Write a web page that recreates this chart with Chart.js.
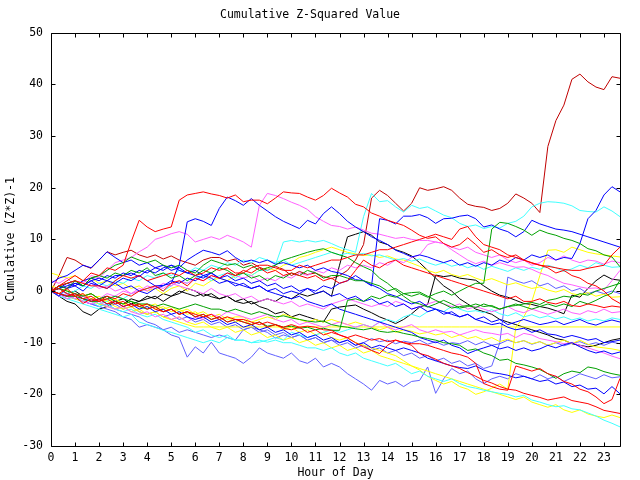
<!DOCTYPE html>
<html>
<head>
<meta charset="utf-8">
<title>Cumulative Z-Squared Value</title>
<script src="https://cdn.jsdelivr.net/npm/chart.js@4.4.0/dist/chart.umd.min.js"></script>
<style>
  html, body { margin: 0; padding: 0; background: #fff; }
  canvas { display: block; }
</style>
</head>
<body>
<canvas id="chart" width="640" height="480"></canvas>
<script>
// sample times, hours (one point every 20 minutes)
const hours = [
  0, 0.333, 0.667, 1, 1.333, 1.667, 2, 2.333, 2.667, 3, 3.333, 3.667,
  4, 4.333, 4.667, 5, 5.333, 5.667, 6, 6.333, 6.667, 7, 7.333, 7.667,
  8, 8.333, 8.667, 9, 9.333, 9.667, 10, 10.333, 10.667, 11, 11.333, 11.667,
  12, 12.333, 12.667, 13, 13.333, 13.667, 14, 14.333, 14.667, 15, 15.333, 15.667,
  16, 16.333, 16.667, 17, 17.333, 17.667, 18, 18.333, 18.667, 19, 19.333, 19.667,
  20, 20.333, 20.667, 21, 21.333, 21.667, 22, 22.333, 22.667, 23, 23.333, 23.667
];
const hourTicks = [0, 1, 2, 3, 4, 5, 6, 7, 8, 9, 10, 11, 12, 13, 14, 15, 16, 17, 18, 19, 20, 21, 22, 23];
const valueTicks = [-30, -20, -10, 0, 10, 20, 30, 40, 50];

// one cumulative series per source
const darkRed1 = [0,3,6.5, 6,5,4.4, 6,7.6,7, 7.5,7.9,7, 6.5,7,6.2, 6.8,6,5.5, 5,6,6.5, 6.5,5.8,6.2,
  5,5.5,4.6, 4,4.8,4.2, 3,3.8,3.2, 3.5,2.8,2.4, 3,4,6, 9,18,19.5, 18.5,17,15.5, 17,20,19.5,
  19.8,20.2,19.5, 18,16.8,16.4, 16.2,15.6,16, 17,18.8,18, 17,15.2,28, 33,36,41, 42,40.5,39.5, 39,41.5,41.2];
const red1 = [0,1,2, 3,2,3.5, 3,4.5,4, 5,9.5,13.7, 12.4,11.5,12, 12.4,17.6,18.6, 18.9,19.2,18.8, 18.5,18,18.6,
  17.3,17.6,17.6, 16.9,18,19.2, 19,18.9,18.2, 17.6,18.5,19.9, 19,18.2,16.8, 16.3,15.1,14.5, 13.7,13.2,12.7, 11.8,10.8,10.2,
  10.5,9.2,8.5, 9,10.3,9, 7.5,8,7, 6.5,7,6, 5.5,5,4.5, 3.5,4,3, 2.5,1.5,1, 0,-1.5,-2.4];
const red2 = [0,-0.5,-1, -0.5,-1.5,-1, -2,-1.5,-2.5, -2,-3,-2.5, -3.5,-3,-4, -3.5,-4.5,-4, -4.5,-5,-4.5, -5.5,-5,-5.5,
  -5.5,-6,-6.5, -6,-6.5,-7, -6.5,-7,-6.8, -7,-7.5,-7.6, -8.5,-9.1,-10, -10.8,-11.5,-12.1, -10.5,-9.5,-10, -10.5,-12.1,-12.5,
  -13.2,-14,-14.5, -15,-15.8,-16.5, -17.3,-17.8,-18.5, -19,-19.2,-19.8, -20.2,-20.6,-21.1, -20.8,-20.5,-21.2, -21.5,-21.8,-22.4, -23.1,-23.4,-23.7];
const red3 = [0,0.5,-0.5, -1,-0.5,-2, -1.5,-2.5,-2, -3,-2.5,-3, -2.5,-3.5,-4, -3.5,-4.5,-4, -5,-4.5,-5.5, -5,-6,-5.5,
  -6,-6.5,-6, -7,-6.5,-7.2, -7.5,-7,-8, -7.5,-8.5,-8, -8.5,-9,-8.5, -9,-9.5,-9.2, -9.8,-9.5,-10, -10.2,-10.2,-10.5,
  -11,-11.5,-12, -12.3,-12.8,-14, -17.9,-18.5,-19, -19.2,-14.5,-15, -15.5,-15,-16, -16.5,-17.5,-18, -19,-19.5,-20.5, -21.8,-21,-16.9];
const red4 = [0,1,1.5, 2,1.5,1, 1,0.5,2, 3,2.5,3, 2,2.5,3, 3.5,3,4, 3,3.5,4.5, 4,4.5,3.5,
  3.5,4.5,5, 5,4.5,4, 4,5,4.5, 5,5.5,6, 6,6.5,7, 7,7.5,8, 8,8.5,9, 9.5,10,10.5,
  11,10.5,10, 12,12.5,10.5, 9,8.5,8, 7,6.5,6, 5.4,5,4.8, 4.5,4.2,4, 4,4.4,4.7, 5,7,8.5];
const red5 = [0,-0.5,0.5, -1,-2.4,-1.5, -2,-1,-1.5, -0.5,-1,0, 0.5,1,0, 1.5,2,1, 2.5,2,3, 2.5,3.5,3,
  4,3.5,4.5, 3.5,4,3, 3.5,3,2.5, 3,2,2.5, 1.5,2,4, 6,5,4.5, 5.5,6,5, 4.5,4,3.5,
  3,2.5,2, 1.5,1,0.5, 0,-0.5,-1, -1.5,-1,-2, -2,-1.5,-2.2, -2.5,-2,-2.8, -3,-2.5,-2.8, -3.2,-2.9,-3.1];
const magenta1 = [0,1,0.5, 2,1.5,3, 2.5,4,5.5, 6,6.5,7.6, 8.5,10,10.5, 11.1,11.5,11, 9.5,10,10.5, 10,10.8,10.2,
  9.5,8.5,16.6, 18.9,18.5,17.9, 17.2,16.6,15.8, 14.4,13.5,12.7, 12.5,12,12.4, 11.8,11.2,11, 10.6,10.2,10.4, 10,9.8,9.8,
  9.5,9.2,8.5, 8,8.5,7.5, 7,6.5,7, 6,5.5,6, 5,5.5,6.5, 6,6.8,6, 5.5,6,5.8, 5.2,5.8,5.5];
const magenta2 = [2,1.5,2.5, 1,2,1.5, 0.5,1,0, 0.5,-0.5,0, 1,0.5,1.5, 1,2,1.5, 2.5,2,3, 2.5,3.5,3,
  2.5,3,2, 2.5,2,3, 2.5,3.5,3, 4,3.5,4.5, 4,5,4.5, 5,4.5,5.5, 5,6,5.5, 6.5,7,9,
  9.5,9.2,8, 7,6,5.3, 5.8,5,5.5, 5,4.6,4.7, 4.2,3.5,3, 2.2,1.5,1.2, 0.8,0.5,0.6, 0.2,2,4];
const magenta3 = [0,-1,-0.5, -1.5,-1,-2, -1.5,-0.5,-1, 0,-0.5,0.5, 0,1,0.5, 1.5,1,0.5, 0,-0.5,0.5, -0.5,-1,-0.5,
  -1.5,-1,-2, -1.5,-2,-2.5, -2,-3,-2.5, -3,-3.5,-2.5, -2,-1.5,-2, -2.5,-3,-2.5, -3,-2,-2.5, -3.5,-3,-2.5,
  -2,-2.5,-3, -2.5,-3.5,-3, -3.5,-4,-3.5, -3,-3.8,-4.2, -3.5,-4,-4.5, -4,-3.5,-4.2, -4.5,-3.8,-4.2, -3.5,-4.2,-4];
const magenta4 = [0,-0.5,-1.5, -1,-2,-2.5, -2,-3,-3.5, -3,-4,-4.5, -4,-5,-4.5, -5.5,-5,-6, -5,-5.5,-4.5, -5,-4,-4.5,
  -5,-5.5,-5, -4.5,-5.5,-6, -5.5,-6.5,-6, -6.5,-7,-6.5, -6,-6.5,-7, -6.5,-7,-6, -7,-7.5,-7, -6.5,-7.5,-8,
  -7.5,-8,-7.8, -8.5,-8,-7.5, -8,-8.2,-8.5, -8.2,-9,-8.2, -8.5,-9.2,-9.5, -9.8,-10.2,-10, -10.5,-11,-11.5, -12,-12.6,-13.1];
const blue1 = [0,-1,0.5, 1,0,1.5, 1,2,1.5, 2.5,2,3, 2,1,1.1, 1.5,5,13.4, 14,13.5,12.7, 16,18.2,17.5,
  16.6,17.9,16.6, 15.5,14.4,13.5, 12.8,12.1,13.7, 13,15,16.3, 15,13.5,12.4, 11.5,10.5,9.8, 9,7.9,7.3, 6.6,7,6.6,
  6,5.5,6, 5,5.5,4.8, 5.5,5,6, 5.5,6.5,6, 7,6.5,7, 6,6.5,6.3, 9.2,14,15.6, 18.6,20.2,19.2];
const blue2 = [0,0.5,1, 1.5,1,2, 2.5,2,3, 3,3.5,2.8, 4,3.5,4.5, 5,4.5,6, 7,7.9,7.5, 7,7.8,6.5,
  5.6,6,5.5, 6,5.2,5.5, 5,4.5,5, 4,4.5,3.8, 3.5,3,2.2, 2,1.2,0.5, -0.5,-1,-1.8, -2.5,-2,-3,
  -3.5,-4,-4.5, -5,-4.5,-5.5, -6,-6.5,-6.2, -7,-7.5,-7.2, -8,-7.5,-8.3, -8.5,-9,-8.6, -9,-9.5,-9.2, -10,-9.8,-9.5];
const blue3 = [0,1,0.5, 1.5,1,2, 1,0.5,1.5, 0.5,1,0, -0.5,0.5,1, 2,1.5,2.5, 2,3,2.5, 1.5,2,1,
  1.5,0.5,1, 0,0.5,-0.5, 0,-0.5,0.5, 0,1,0.5, 1.5,2,3, 2,1,14, 13.7,13,14.5, 14.5,14.8,14.2,
  13.1,14,14.1, 14.5,14.7,14, 12.4,12.8,12, 11.5,10.5,11.5, 13.7,13,12.5, 12,11.8,11.5, 11,10.5,10, 9.5,9,8.5];
const blue4 = [0,0.5,1.5, 1,2,2.5, 2,3,2.5, 3.5,3,4, 3.5,4.5,4, 5,4,3.5, 3,2.5,3.5, 2.5,2,1.5,
  1,0.5,1, 0,-0.5,-1, -1.5,-1,-2, -2.5,-3,-2.5, -3.5,-4,-4.5, -5,-5.5,-6, -6.5,-7,-7.5, -8,-9,-9.5,
  -10,-9.5,-10.5, -11,-12.1,-11.5, -11,-10.5,-11.2, -10.8,-11.5,-11, -11.6,-11.2,-10.5, -11,-10.4,-10, -10.8,-11.5,-12, -11.6,-12.2,-11.8];
const blue5 = [0,-0.5,-1, -0.5,-1.5,-2, -1.5,-2.5,-2, -3,-2.5,-3.5, -3,-4,-3.5, -4.5,-4,-5, -5.5,-5,-6, -5.5,-6.5,-6,
  -7,-6.5,-7.5, -7,-8,-7.5, -8.5,-8,-9, -8.5,-9.5,-9, -10,-9.5,-10.5, -10,-11,-10.5, -11,-11.5,-11, -11.5,-12,-13,
  -13.5,-14,-14.5, -14.8,-15,-14.5, -15.3,-15.8,-16, -16.3,-16.8,-16.5, -17,-17.5,-17.2, -18,-17.6,-18.5, -18.2,-19,-18.8, -19.9,-18.5,-19.9];
const blue6 = [1.5,2.5,3, 4,5,4.5, 6,7.6,6.5, 5.5,6,5, 5.5,4.5,5, 4,4.5,3.5, 4,3,3.5, 2.5,3,2,
  2.5,1.5,2, 1,1.5,0.5, 1,0,0.5, -0.5,0,-1, -0.5,-1.5,-1, -2,-1.5,-2.5, -2,-3,-2.5, -3.5,-3,-4,
  -3.5,-4.5,-4, -5,-4.5,-5.5, -5,-6,-5.5, -6.5,-6,-5.5, -6,-6.5,-6.2, -5.8,-6.5,-6, -5.5,-6.2,-6.6, -6,-5.6,-6];
const slate1 = [0,-0.5,-1, -1.5,-2,-2.5, -3,-2.5,-3.5, -4,-4.5,-5, -6,-6.5,-7.5, -8.5,-9,-12.8, -10.8,-12,-9.9, -12,-12.5,-13,
  -14,-12.8,-11, -12,-12.5,-13, -12,-13.5,-14, -13,-14.7,-14, -14.7,-16,-17, -18,-19.2,-17.3, -18,-17.5,-18.5, -17.5,-17.3,-14.7,
  -19.8,-17,-15, -16,-15.5,-17, -17.9,-17,-16.5, -17,-16,-16.5, -17,-16.2,-17, -16.5,-17.5,-16.8, -16,-16.5,-17, -16.2,-16.8,-16.6];
const slate2 = [0,-0.5,-1.5, -1,-2,-2.5, -3,-3.5,-4, -5,-5.5,-7, -6.5,-7,-7.5, -7,-8,-7.5, -8,-8.5,-9, -8.5,-9,-9.5,
  -7.5,-7,-7.5, -8,-9.1,-8.5, -9,-8.5,-9.5, -9,-10,-9.5, -10,-9.5,-10.5, -10,-9.2,-9.8, -9.5,-10.2,-9.7, -10,-9.5,-10.3,
  -9.8,-10.5,-10, -10.2,-9.6,-10.4, -9.8,-10.5,-10.2, -9.5,-10,-9.6, -10.3,-9.8,-10.5, -10,-10.6,-10.1, -9.8,-10.4,-10, -10.5,-9.9,-10.2];
const slate3 = [0,-1,-0.5, -1.5,-2,-1.5, -2.5,-3,-2.5, -3.5,-3,-4, -4.5,-4,-5, -4.5,-5.5,-5, -6,-5.5,-6.5, -6,-7,-6.5,
  -7.5,-7,-8, -7.5,-8.5,-8, -9,-8.5,-9.5, -9,-10,-9.5, -10.5,-10,-11, -10.5,-11.5,-11, -12,-11.5,-12.5, -12,-13,-12.5,
  -13.5,-13,-14, -13.5,-14.5,-14, -15,-14.5,-10, 2.7,2,1.5, 2,1,1.5, 0.5,1,0, 0.5,-0.5,0, -0.5,0,-0.5];
const cyan1 = [0,-1,-1.5, -1,-2,-1.5, -2.5,-2,-1, -1.5,-0.5,0, 0.5,1,0, 1,2,1.5, 2.5,3,2, 3,3.5,2.5,
  3.5,3,4, 4,5,9.5, 9.8,9.5,9.8, 9.5,9.8,9.2, 8.5,8,7.5, 14.4,18.9,17.3, 17.5,16.3,15.3, 16.6,16,16.3,
  15.5,14.7,14.2, 13.1,12.5,12.8, 12.1,12.5,12.2, 13.1,13.5,14.5, 16.3,17,17.3, 17.2,17,16.5, 15.6,15.4,15.3, 16.3,15.5,14.4];
const cyan2 = [0,0.5,-0.5, 0,1,0.5, 1.5,1,2, 1.5,2.5,2, 3,2.5,3.5, 3,4,3.5, 4.5,4,5, 4.5,5.5,5,
  6,5.5,6.5, 6,5.5,6, 5,5.5,6, 6.5,7,7.5, 7,7.3,7, 7.3,6.8,7, 6.5,6,6.3, 5.8,6.2,5.5,
  5,5.5,4.8, 5.2,4.5,5, 4.2,4.8,4.3, 3.8,4.5,4, 4.6,4.2,5, 4.5,3.8,4.3, 5,4.5,5.5, 5,4.6,4.7];
const cyan3 = [0,-0.5,-1, -1.5,-1,-2, -3,-2.5,-3.5, -4,-3.5,-4.5, -5,-4.5,-5.5, -6,-6.5,-7, -8,-7.5,-8.5, -9,-8.5,-9.5,
  -9.5,-10,-9.5, -9.9,-9.5,-10, -10,-10.5,-11, -11,-11.5,-11, -12,-12.5,-12, -13,-13.5,-14, -14.5,-14,-15, -16,-15.5,-16.5,
  -17,-17.5,-17, -17.9,-18.5,-18.8, -19.2,-19.5,-19.8, -20,-20.5,-20.2, -21.1,-21.5,-22, -22.4,-22.2,-22.8, -23,-23.6,-24.2, -25,-25.6,-26.3];
const cyan4 = [0,-0.5,-1.5, -2,-2.5,-3, -3.5,-4,-4.5, -5,-4.5,-6, -6.5,-7,-7.6, -8,-8.5,-9, -9.5,-10,-9.5, -10,-9,-9.5,
  -9.5,-10,-9.9, -9.5,-9,-9.5, -8,-8.5,-9, -8.5,-8,-7.5, -8,-7.5,-7, -6.5,-7,-6, -5.5,-6,-5, -4.5,-5,-4,
  -3.5,-4,-3, -3.5,-4,-3.8, -4.2,-3.6,-4.4, -4.8,-4.2,-5, -4.6,-5.2,-4.8, -5.4,-5,-5.6, -5.2,-5.8,-5.4, -5.8,-5.2,-5.5];
const green1 = [0,1,1.5, 2,1,2.5, 3,2.5,3.5, 3,4,3.5, 4.5,3,3.5, 2.5,3,2, 3,4,3.5, 4.5,4,3,
  3.5,2.5,3, 2,3,2.5, 3.5,3,4, 3.5,2.5,3, 3,2.5,2, 2,1.5,1, 0,0.5,-0.5, -1,-0.5,-1.2,
  -0.5,0,-0.8, 0,0.8,1.5, 1.5,12,13.3, 13.1,12.5,11.8, 10.8,11.8,11.2, 10.8,10.2,9.8, 9.2,8.2,7.8, 7,6.6,4.7];
const green2 = [0,1,0.5, 2,1,2.5, 3,4,5, 5.5,6.6,6, 5.5,6,5, 4.5,5,4, 3.5,5,6, 5.5,5,5.3,
  4.5,5,4, 4.5,5,6, 6.5,7,7.5, 7.9,8.2,7.5, 7,6.5,5.5, 4.7,4,2.5, 1.5,0.2,-1, -2.1,-2.5,-3.1,
  -2.5,-1.8,-2.5, -3.3,-3,-2.5, -3,-2.8,-3.5, -3,-2.5,-3, -3.5,-3,-2.5, -3,-2.5,-3, -2,-2.5,-1.8, -1,-0.4,2.1];
const green3 = [0,-0.5,-1, -1,-1.5,-2, -2,-1.5,-1, -1.5,-2,-2.5, -2.5,-3,-2.5, -3,-3.5,-3, -2.5,-3,-3.5, -3.5,-4,-3.5,
  -4,-4.5,-4, -4.5,-5,-4.8, -5.2,-5.5,-5.8, -6,-5.8,-6.5, -6.8,-7,-7.3, -7.5,-7.2,-7.8, -8,-7.8,-8.2, -8.5,-8.9,-9.2,
  -9.5,-10,-10.2, -10.5,-11.5,-11.2, -12,-12.5,-13.4, -13.2,-14,-14.3, -14.7,-15.2,-16, -16.9,-16,-15.5, -15.8,-14.7,-15, -15.6,-16,-16.3];
const green4 = [0,0.5,0, -0.5,-1,-0.5, -1.5,-1,-2, -2.5,-2,-3, -3.5,-3,-4, -3.5,-4.5,-4, -5,-4.5,-5.5, -5,-6,-5.5,
  -6,-6.5,-6, -6.8,-6.5,-7, -6.8,-7.2,-7, -7.5,-7.2,-7.6, -7.6,-1.8,-1.5, -2,-1,-1.5, -0.8,-1.2,-0.5, -0.3,-0.2,-1,
  -1.8,-2.5,-3.3, -3,-2.8,-3.2, -2.5,-3,-3.5, -3,-2.8,-2.5, -2.2,-2.6,-1.8, -1.5,-1,-1.2, -0.5,-0.8,0, 0.5,1,1.5];
const yellow1 = [0,-0.5,-1, -1.5,-1,-2, -2.5,-2,-3, -3.5,-3,-4, -4.5,-4,-5, -5.5,-6,-6.5,
  -6.95,-6.95,-6.95, -6.95,-6.95,-6.95, -6.95,-6.95,-6.95, -6.95,-6.95,-6.95, -6.95,-6.95,-6.95, -6.95,-6.95,-6.95,
  -6.95,-6.95,-6.95, -6.95,-6.95,-6.95, -6.95,-6.95,-6.95, -6.95,-6.95,-6.95, -6.95,-6.95,-6.95, -6.95,-6.95,-6.95,
  -6.95,-6.95,-6.95, -6.95,-6.95,-6.95, -6.95,-6.95,-6.95, -6.95,-6.95,-6.95, -6.95,-6.95,-6.95, -6.95,-6.95,-6.95];
const yellow2 = [0,-0.5,0.5, -1,-0.5,-1.5, -1,-2,-1.5, -2.5,-2,-3, -2.5,-3.5,-3, -4,-3.5,-4.5, -4,-5,-4.5, -5.5,-5,-6,
  -5.5,-6.5,-6, -7,-6.5,-7.5, -7,-8,-7.5, -8.5,-8,-9, -9.5,-9,-10, -10.5,-11,-11.5, -12,-12.5,-13.5, -14.5,-15.3,-16.5,
  -17.3,-18,-17.5, -18.5,-19,-20, -19.5,-18.8,-18, -19,-7,-5, -2,3,7.9, 8,7.5,8.5, 8,7.5,7.2, 7,6.8,6.6];
const yellow3 = [1,0.5,0, -0.5,-1,-0.5, -1.5,-2,-1.5, -2.5,-3,-2.5, -3,-2.5,-3.5, -3,-4,-3.5, -4.5,-4,-5, -4.5,-5.5,-5,
  -5,-6,-5.5, -5,-5.5,-4.5, -5,-5.5,-6, -5.5,-6,-5.5, -6,-6.5,-6, -6.5,-7,-7.5, -7,-8,-7.5, -7.8,-8.3,-8,
  -8.5,-8.2,-9, -8.5,-9.2,-8.8, -9.5,-9,-9.8, -9.3,-10,-9.6, -10.2,-9.8,-10.5, -10,-9.5,-10.2, -9.5,-10.3,-10.8, -11,-11.2,-11.5];
const yellow4 = [0,-0.5,-1, -1.5,-2,-1.5, -2.5,-3,-3.5, -3,-4,-3.5, -4.5,-4,-5, -5.5,-5,-6, -6.5,-6,-7, -7.5,-7,-8,
  -7.5,-8.5,-8, -9,-8.5,-9.5, -9,-10,-9.5, -10.5,-10,-11, -10.5,-11.5,-11, -12,-11.5,-12.5, -13,-13.5,-14, -14.5,-15,-15.5,
  -16,-16.5,-17, -17.5,-18,-18.5, -19,-19.5,-20, -20.5,-21,-20.5, -21.5,-22,-22.5, -22,-23,-23.5, -23,-23.8,-24.2, -24.5,-24,-24.5];
const yellow5 = [3.5,3,2.5, 3,2,2.5, 1.5,2,1, 1.5,0.5,1, 0,0.5,-0.5, 0.5,1,0, 1.5,1,2, 2.5,2,3,
  3.5,3,4, 4.5,4,5, 5.5,6.5,6.9, 7.5,8,8.5, 8,7.5,7.2, 6.9,7,6.5, 6.8,6.2,6, 5.4,4.8,4,
  3.5,4,3.2, 2.8,3.2,2.5, 2,2.4,1.8, 1.2,1.6,1, 0.5,0.8,0.2, -0.2,0.3,-0.5, -0.8,-0.3,-1, -0.6,-1.2,-1.1];
const black1 = [0,-1,-2, -2.5,-4,-4.7, -3.5,-3,-2, -2.5,-1.5,-2, -1,-1.5,-0.5, -1,0,-0.5, -1,-0.5,-1.1, -1.5,-1,-2,
  -2.4,-2,-3, -3.5,-4.4,-4, -5,-4.5,-5, -5.5,-6,-3.5, -3.1,-2.9,-2.7, -3.5,-4.2,-5, -5.6,-6.3,-5.5, -4.4,-3.1,-2.6,
  3.1,2.8,3, 2.5,2.3,2.1, 1,0,-0.8, -1.2,-1.8,-2.4, -2.6,-3,-3.3, -3.8,-4.4,-0.8, -1.2,0.5,2, 3.1,2.3,2.1];
const black2 = [0,0.5,-0.5, 0,-1,-0.5, -1.5,-1,-2, -1.5,-2.5,-2, -1.5,-1,-2, -1,-0.5,0.5, 0,-1,-0.5, -1.5,-1,-2,
  -1.5,-2.5,-2, -1.5,-2,-1, -1.5,-0.5,-1, -0.5,0,-1, 5,10.5,11, 11.5,10.8,9.5, 9,8,7.5, 6.8,5.5,4,
  2.5,1,0, -1.5,-2.5,-3.5, -4,-4.5,-5.5, -6,-6.5,-7, -7.5,-8,-8.5, -9.2,-9.5,-10.2, -10.5,-10.8,-10.5, -10,-9.5,-9.2];

const seriesList = [
  [red1, '#ff0000'], [red2, '#ff0000'], [red3, '#ff0000'], [red4, '#ff0000'], [red5, '#ff0000'],
  [green1, '#00a000'], [green2, '#00a000'], [green3, '#00a000'], [green4, '#00a000'],
  [blue1, '#0000ff'], [blue2, '#0000ff'], [blue3, '#0000ff'], [blue4, '#0000ff'], [blue5, '#0000ff'], [blue6, '#0000ff'],
  [magenta1, '#ff60ff'], [magenta2, '#ff60ff'], [magenta3, '#ff60ff'], [magenta4, '#ff60ff'],
  [cyan1, '#40ffff'], [cyan2, '#40ffff'], [cyan3, '#40ffff'], [cyan4, '#40ffff'],
  [yellow1, '#ffff00'], [yellow2, '#ffff00'], [yellow3, '#ffff00'], [yellow4, '#ffff00'], [yellow5, '#ffff00'],
  [slate1, '#6060ff'], [slate2, '#6060ff'], [slate3, '#6060ff'],
  [black1, '#000000'], [black2, '#000000'],
  [darkRed1, '#c00000']
];

const monoFont = { family: '"DejaVu Sans Mono", "Liberation Mono", monospace', size: 11.5, weight: 'normal' };

// gnuplot style frame with inward ticks on all four sides
const frameTicks = {
  id: 'frameTicks',
  afterDraw(chart) {
    const { ctx, chartArea: a, scales: { x, y } } = chart;
    const L = Math.round(a.left) + 0.5, R = Math.round(a.right) + 0.5;
    const T = Math.round(a.top) + 0.5, B = Math.round(a.bottom) + 0.5;
    ctx.save();
    ctx.strokeStyle = '#000';
    ctx.lineWidth = 1;
    ctx.beginPath();
    ctx.rect(L, T, R - L, B - T);
    hourTicks.forEach(v => {
      const px = Math.round(x.getPixelForValue(v)) + 0.5;
      ctx.moveTo(px, B); ctx.lineTo(px, B - 4);
      ctx.moveTo(px, T); ctx.lineTo(px, T + 4);
    });
    valueTicks.forEach(v => {
      const py = Math.round(y.getPixelForValue(v)) + 0.5;
      ctx.moveTo(L, py); ctx.lineTo(L + 4, py);
      ctx.moveTo(R, py); ctx.lineTo(R - 4, py);
    });
    ctx.stroke();
    ctx.restore();
  }
};

new Chart(document.getElementById('chart'), {
  type: 'line',
  data: {
    datasets: seriesList.map(([values, color]) => ({
      data: values.map((v, i) => ({ x: hours[i], y: v })),
      borderColor: color,
      borderWidth: 1,
      pointRadius: 0,
      tension: 0,
      fill: false
    }))
  },
  options: {
    responsive: false,
    animation: false,
    layout: { padding: { top: 0, right: 20, bottom: 0, left: 0 } },
    plugins: {
      legend: { display: false },
      tooltip: { enabled: false },
      title: {
        display: true,
        text: 'Cumulative Z-Squared Value',
        color: '#000',
        font: monoFont,
        padding: { top: 8, bottom: 11 }
      }
    },
    scales: {
      x: {
        type: 'linear',
        min: 0,
        max: 23.667,
        afterBuildTicks: axis => { axis.ticks = hourTicks.map(v => ({ value: v })); },
        afterFit: scale => { scale.height = 34; },
        grid: { display: false, drawTicks: false },
        border: { display: false },
        ticks: { color: '#000', font: monoFont, padding: 5, maxRotation: 0, autoSkip: false },
        title: { display: true, text: 'Hour of Day', color: '#000', font: monoFont, padding: { top: 0, bottom: 0 } }
      },
      y: {
        type: 'linear',
        min: -30,
        max: 50,
        afterBuildTicks: axis => { axis.ticks = valueTicks.map(v => ({ value: v })); },
        afterFit: scale => { scale.width = 51; },
        grid: { display: false, drawTicks: false },
        border: { display: false },
        ticks: { color: '#000', font: monoFont, padding: 8 },
        title: { display: true, text: 'Cumulative (Z*Z)-1', color: '#000', font: monoFont, padding: { top: 4, bottom: 0 } }
      }
    }
  },
  plugins: [frameTicks]
});
</script>
</body>
</html>
